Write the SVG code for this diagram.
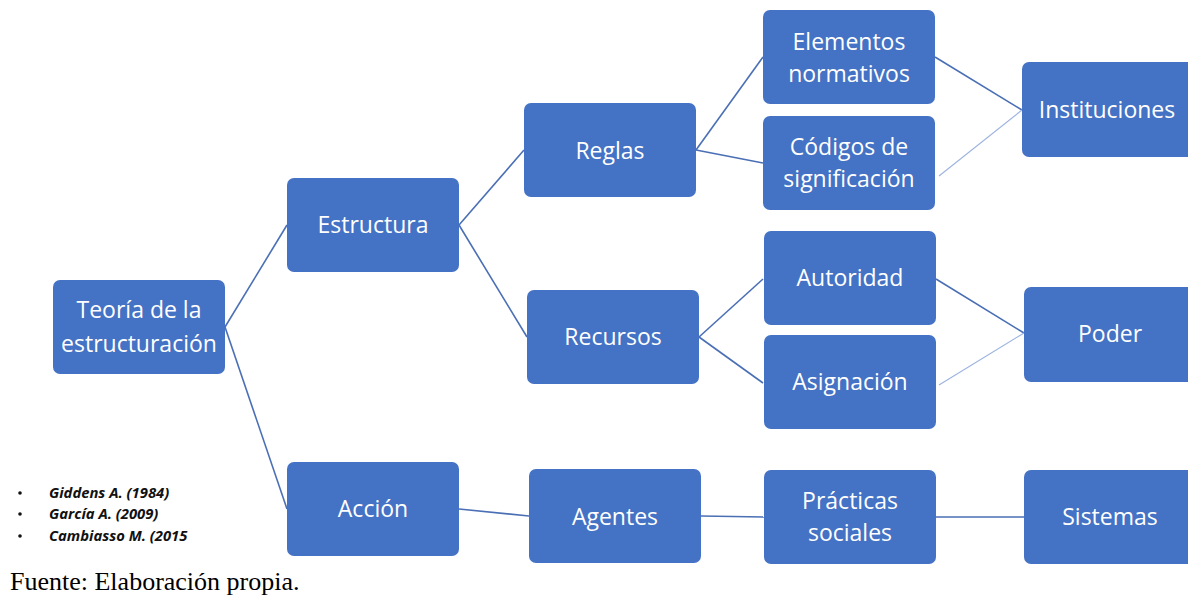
<svg xmlns="http://www.w3.org/2000/svg" width="1188" height="597" viewBox="0 0 1188 597">
<style>
.n{fill:#4472C4;}
.t{fill:#fff;font-family:"Open Sans","Noto Sans",sans-serif;font-size:23px;text-anchor:middle;}
.c{stroke:#4a6fb5;stroke-width:1.6;fill:none;}
.cl{stroke:#9db4e0;stroke-width:1.2;fill:none;}
.r{font-family:"Open Sans","Noto Sans",sans-serif;font-size:14.8px;font-style:italic;font-weight:bold;fill:#111;}
</style>
<rect width="1188" height="597" fill="#fff"/>
<g id="connectors">
<line class="c" x1="225" y1="327" x2="287" y2="225"/>
<line class="c" x1="225" y1="327" x2="287" y2="509"/>
<line class="c" x1="459" y1="225" x2="524" y2="150"/>
<line class="c" x1="459" y1="225" x2="527" y2="337"/>
<line class="c" x1="696" y1="150" x2="763" y2="57"/>
<line class="c" x1="696" y1="150" x2="763" y2="163"/>
<line class="c" x1="935" y1="57" x2="1022" y2="110"/>
<line class="cl" x1="939" y1="176" x2="1022" y2="110"/>
<line class="c" x1="699" y1="337" x2="763" y2="279"/>
<line class="c" x1="699" y1="337" x2="763" y2="383"/>
<line class="c" x1="936" y1="279" x2="1024" y2="333"/>
<line class="cl" x1="939" y1="385" x2="1024" y2="333"/>
<line class="c" x1="459" y1="509" x2="529" y2="516"/>
<line class="c" x1="701" y1="516" x2="764" y2="517"/>
<line class="c" x1="935" y1="517" x2="1024" y2="517"/>
</g>
<g id="teoria"><rect class="n" x="53" y="280" width="172" height="94" rx="7"/><text class="t" x="139" y="318">Teoría de la</text><text class="t" x="139" y="352">estructuración</text></g>
<g id="estructura"><rect class="n" x="287" y="178" width="172" height="94" rx="7"/><text class="t" x="373" y="233">Estructura</text></g>
<g id="accion"><rect class="n" x="287" y="462" width="172" height="94" rx="7"/><text class="t" x="373" y="517">Acción</text></g>
<g id="reglas"><rect class="n" x="524" y="103" width="172" height="94" rx="7"/><text class="t" x="610" y="159">Reglas</text></g>
<g id="recursos"><rect class="n" x="527" y="290" width="172" height="94" rx="7"/><text class="t" x="613" y="345">Recursos</text></g>
<g id="agentes"><rect class="n" x="529" y="469" width="172" height="94" rx="7"/><text class="t" x="615" y="525">Agentes</text></g>
<g id="elementos"><rect class="n" x="763" y="10" width="172" height="94" rx="7"/><text class="t" x="849" y="50">Elementos</text><text class="t" x="849" y="82">normativos</text></g>
<g id="codigos"><rect class="n" x="763" y="116" width="172" height="94" rx="7"/><text class="t" x="849" y="155">Códigos de</text><text class="t" x="849" y="187">significación</text></g>
<g id="autoridad"><rect class="n" x="764" y="231" width="172" height="94" rx="7"/><text class="t" x="850" y="286">Autoridad</text></g>
<g id="asignacion"><rect class="n" x="764" y="335" width="172" height="94" rx="7"/><text class="t" x="850" y="390">Asignación</text></g>
<g id="practicas"><rect class="n" x="764" y="470" width="172" height="94" rx="7"/><text class="t" x="850" y="509">Prácticas</text><text class="t" x="850" y="541">sociales</text></g>
<g id="instituciones"><rect class="n" x="1022" y="62" width="172" height="95" rx="7"/><text class="t" x="1107" y="118">Instituciones</text></g>
<g id="poder"><rect class="n" x="1024" y="287" width="172" height="95" rx="7"/><text class="t" x="1110" y="342">Poder</text></g>
<g id="sistemas"><rect class="n" x="1024" y="470" width="172" height="94" rx="7"/><text class="t" x="1110" y="525">Sistemas</text></g>
<g id="referencias">
<circle cx="20" cy="493" r="1.8" fill="#111"/><text class="r" x="49" y="498">Giddens A. (1984)</text>
<circle cx="20" cy="514" r="1.8" fill="#111"/><text class="r" x="49" y="519">García A. (2009)</text>
<circle cx="20" cy="536" r="1.8" fill="#111"/><text class="r" x="49" y="541">Cambiasso M. (2015</text>
</g>
<text x="10" y="590" font-family="Liberation Serif,serif" font-size="26" fill="#000">Fuente: Elaboración propia.</text>
</svg>
